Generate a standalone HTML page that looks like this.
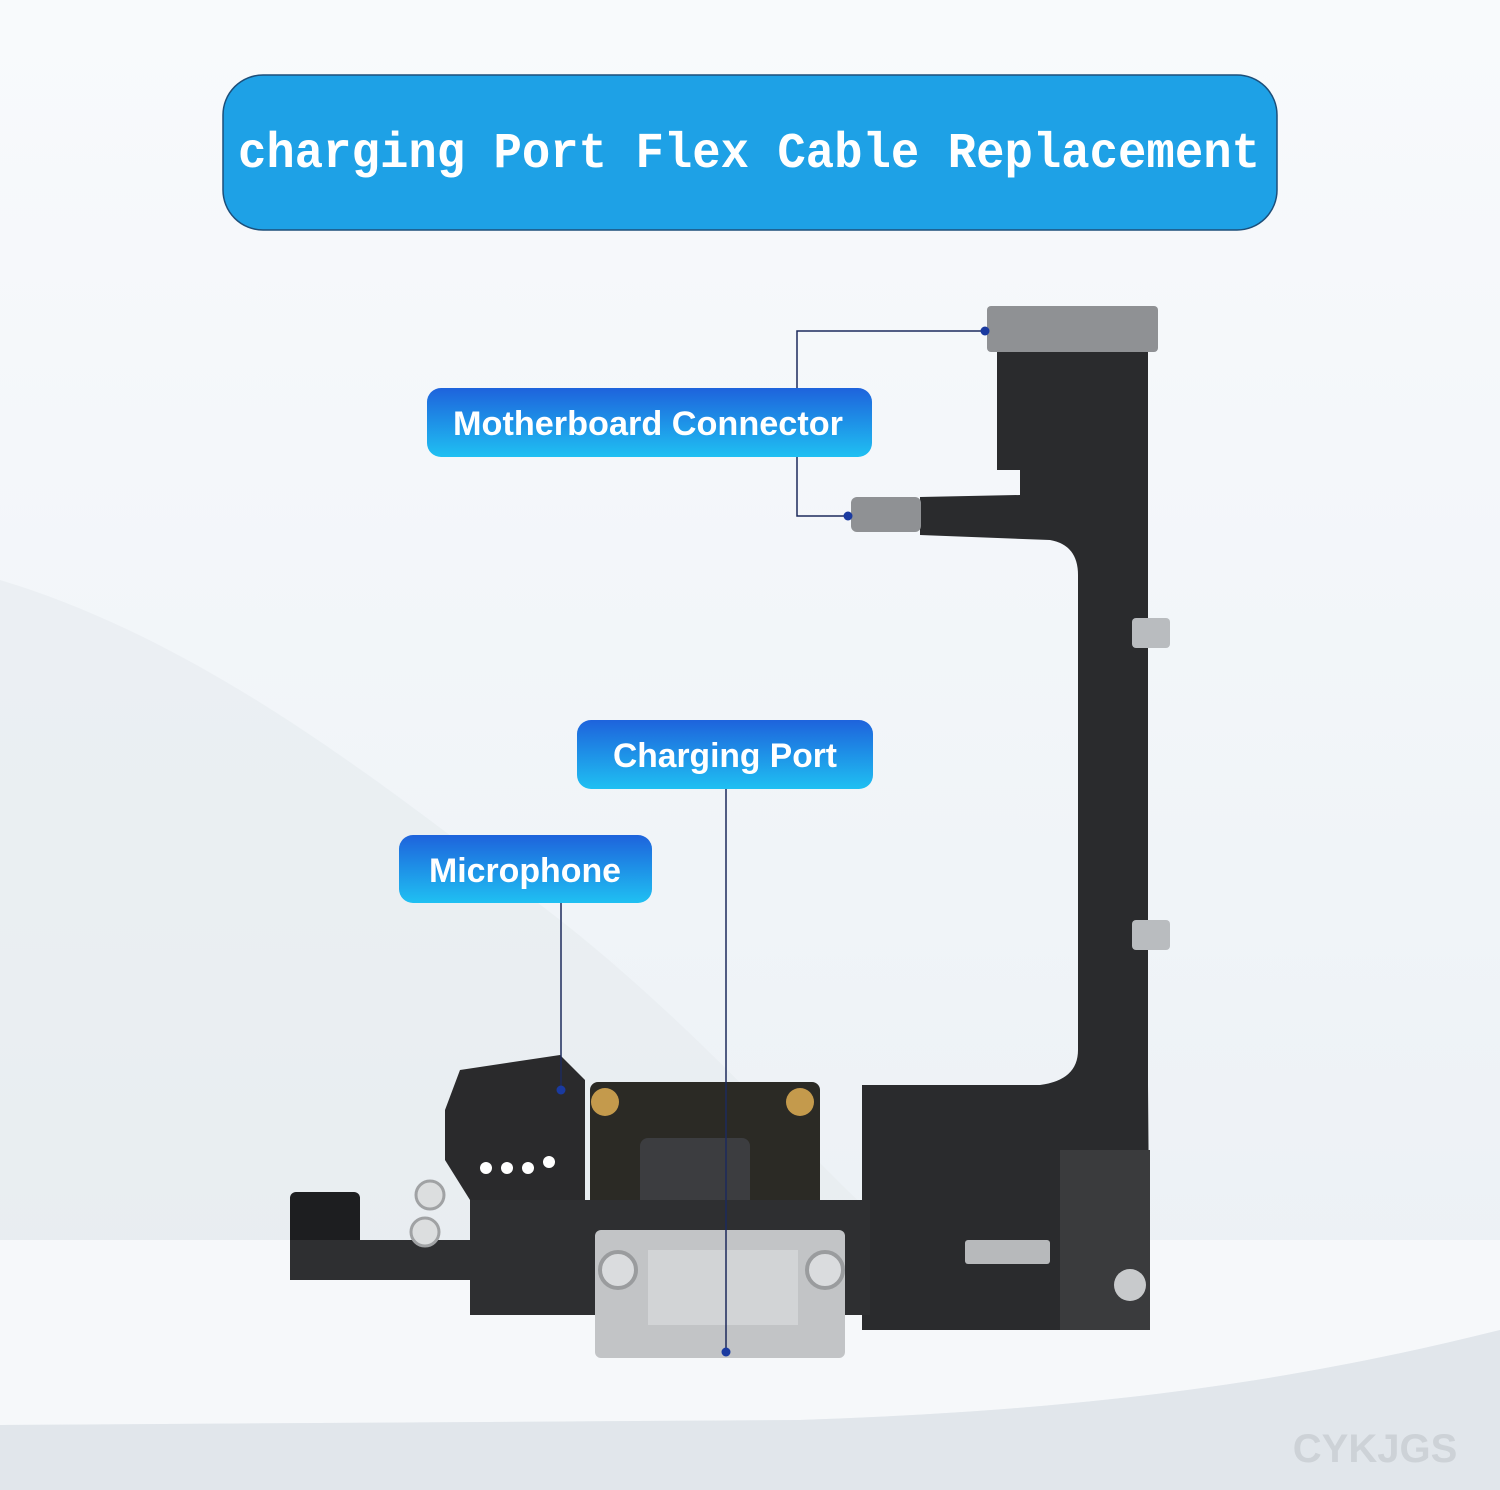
<!DOCTYPE html>
<html><head><meta charset="utf-8"><style>
html,body{margin:0;padding:0}
body{width:1500px;height:1490px;overflow:hidden;background:#f4f7fa}
svg{display:block}
</style></head><body>
<svg width="1500" height="1490" viewBox="0 0 1500 1490" xmlns="http://www.w3.org/2000/svg">
<defs>
<linearGradient id="bg" x1="0" y1="0" x2="0" y2="1">
<stop offset="0" stop-color="#f8fafc"/><stop offset="0.6" stop-color="#f0f4f8"/><stop offset="1" stop-color="#eaeff3"/>
</linearGradient>
<linearGradient id="lab" x1="0" y1="0" x2="0" y2="1">
<stop offset="0" stop-color="#1e63dc"/><stop offset="1" stop-color="#1fc0f2"/>
</linearGradient>
</defs>
<rect width="1500" height="1490" fill="url(#bg)"/>
<path d="M0 580 C200 640 380 780 560 920 C700 1030 800 1150 900 1240 L0 1240 Z" fill="#e6ebef" opacity="0.6"/>
<path d="M0 1240 L1500 1240 L1500 1330 C1300 1380 1100 1410 800 1420 L0 1425 Z" fill="#f6f8fa"/>
<path d="M0 1425 L800 1420 C1100 1410 1300 1380 1500 1330 L1500 1490 L0 1490 Z" fill="#e1e6eb"/>

<rect x="223" y="75" width="1054" height="155" rx="40" fill="#1ea1e6" stroke="#1d4f7a" stroke-width="1.5"/>
<text x="238" y="167" font-family="Liberation Mono, monospace" font-weight="bold" font-size="50" fill="#fff" textLength="1022" lengthAdjust="spacingAndGlyphs">charging Port Flex Cable Replacement</text>

<!-- flex cable -->
<path d="M997 350 L1148 350 L1148 1085 L1150 1330 L862 1330 L862 1085 L1040 1085 Q1078 1080 1078 1050 L1078 575 Q1078 545 1050 540 L920 535 L920 497 L1020 495 L1020 470 L997 470 Z" fill="#2a2b2d"/>
<rect x="987" y="306" width="171" height="46" rx="4" fill="#8f9194"/>
<rect x="851" y="497" width="70" height="35" rx="6" fill="#8f9194"/>
<rect x="1132" y="618" width="38" height="30" rx="4" fill="#b9bcbf"/>
<rect x="1132" y="920" width="38" height="30" rx="4" fill="#b9bcbf"/>
<rect x="965" y="1240" width="85" height="24" rx="3" fill="#b7b9bb"/>
<rect x="1060" y="1150" width="90" height="180" fill="#3a3b3d"/>
<circle cx="1130" cy="1285" r="16" fill="#c8cacc"/>
<!-- pcb -->
<rect x="590" y="1082" width="230" height="150" rx="8" fill="#2b2a25"/>
<rect x="640" y="1138" width="110" height="85" rx="8" fill="#3c3d40"/>
<circle cx="605" cy="1102" r="14" fill="#c49a4c"/>
<circle cx="800" cy="1102" r="14" fill="#c49a4c"/>
<!-- left flex -->
<rect x="470" y="1200" width="400" height="115" fill="#2e2f31"/>
<rect x="595" y="1230" width="250" height="128" rx="6" fill="#c2c4c6"/>
<rect x="648" y="1250" width="150" height="75" fill="#d2d4d6"/>
<circle cx="618" cy="1270" r="18" fill="#dadcde" stroke="#9a9c9e" stroke-width="4"/>
<circle cx="825" cy="1270" r="18" fill="#dadcde" stroke="#9a9c9e" stroke-width="4"/>
<path d="M460 1070 L560 1055 L585 1080 L585 1200 L470 1200 L445 1160 L445 1110 Z" fill="#2a2a2c"/>
<circle cx="486" cy="1168" r="6" fill="#fff"/><circle cx="507" cy="1168" r="6" fill="#fff"/><circle cx="528" cy="1168" r="6" fill="#fff"/><circle cx="549" cy="1162" r="6" fill="#fff"/>
<rect x="290" y="1192" width="70" height="60" rx="6" fill="#1d1e20"/>
<rect x="290" y="1240" width="200" height="40" fill="#2e2f31"/>
<circle cx="430" cy="1195" r="14" fill="#dcdedf" stroke="#a0a2a4" stroke-width="3"/>
<circle cx="425" cy="1232" r="14" fill="#dcdedf" stroke="#a0a2a4" stroke-width="3"/>

<!-- connectors -->
<g stroke="#1c2a5c" stroke-width="1.5" fill="none">
<path d="M985 331 L797 331 L797 388"/>
<path d="M797 457 L797 516 L848 516"/>
<path d="M726 789 L726 1352"/>
<path d="M561 903 L561 1090"/>
</g>
<g fill="#1a3aa0">
<circle cx="985" cy="331" r="4.5"/><circle cx="848" cy="516" r="4.5"/>
<circle cx="726" cy="1352" r="4.5"/><circle cx="561" cy="1090" r="4.5"/>
</g>

<g font-family="Liberation Sans, sans-serif" font-weight="bold" font-size="34" fill="#fff" text-anchor="middle">
<rect x="427" y="388" width="445" height="69" rx="14" fill="url(#lab)"/>
<text x="648" y="435" textLength="390" lengthAdjust="spacingAndGlyphs">Motherboard Connector</text>
<rect x="577" y="720" width="296" height="69" rx="14" fill="url(#lab)"/>
<text x="725" y="767" textLength="224" lengthAdjust="spacingAndGlyphs">Charging Port</text>
<rect x="399" y="835" width="253" height="68" rx="14" fill="url(#lab)"/>
<text x="525" y="882" textLength="192" lengthAdjust="spacingAndGlyphs">Microphone</text>
</g>
<text x="1375" y="1462" font-family="Liberation Sans, sans-serif" font-weight="bold" font-size="40" fill="#cdd2d7" text-anchor="middle">CYKJGS</text>
</svg>
</body></html>
